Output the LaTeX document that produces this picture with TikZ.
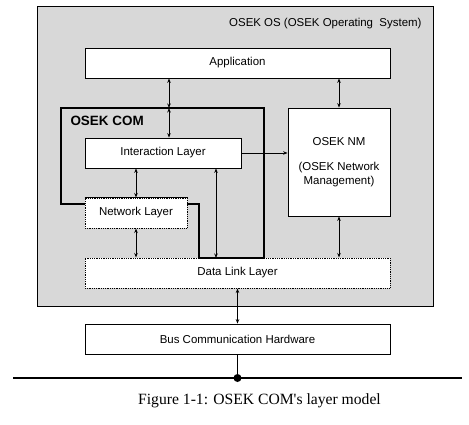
\documentclass[tikz,border=0pt]{standalone}
\usepackage{fontspec}
\setmainfont{Liberation Sans}
\newfontfamily\capfont{Liberation Serif}
\usetikzlibrary{arrows.meta}

\definecolor{osgray}{RGB}{216,216,216}

\tikzset{
    layer/.style={draw, fill=white, line width=0.8bp, inner sep=0pt,
        minimum width=#1, minimum height=30bp,
        font=\fontsize{11.5}{13.5}\selectfont},
    dotlayer/.style={layer=#1, densely dotted, line width=1bp},
    link/.style={line width=0.8bp, >={Stealth[length=4.5bp,width=3.5bp]}},
}

\begin{document}
\begin{tikzpicture}[x=1bp, y=-1bp]
    \useasboundingbox (0,0) rectangle (469,424);
    \def\lblfont{\fontsize{11.5}{13.5}\selectfont}

    % OSEK OS frame
    \node[draw, fill=osgray, line width=0.8bp, minimum width=396bp,
          minimum height=300bp, inner sep=0pt] (os) at (235,156) {};
    \node[anchor=east, font=\lblfont] (oslbl) at (425,24)
        {OSEK OS (OSEK Operating\ \ System)};

    \node[layer=305bp] (app) at (237.5,63) {Application};
    \node[layer=102bp, minimum height=108bp, align=center] (nm) at (339,162)
        {OSEK NM\\[12bp](OSEK Network\\Management)};

    % OSEK COM outline
    \draw[line width=2.4bp] (61,108) -- (264,108) -- (264,258) -- (199,258)
        -- (199,204) -- (61,204) -- cycle;
    \node[anchor=west, font=\fontsize{13.5}{15}\selectfont\bfseries] (comlbl)
        at (67,121) {OSEK COM};

    \node[layer=156bp] (il) at (163,153) {Interaction Layer};
    \node[dotlayer=102bp] (nl) at (136,213) {Network Layer};
    \draw[line width=0.8bp] (nl.north west) -- (nl.north east);
    \node[dotlayer=305bp] (dll) at (237.5,273) {Data Link Layer};
    \draw[line width=2.4bp] (199,258) -- (264,258);
    \node[layer=305bp] (bus) at (237.5,339) {Bus Communication Hardware};

    \coordinate (comtop) at (169,108);
    \coordinate (dllup) at (216,258);
    \coordinate (busL) at (13,378);
    \coordinate (busR) at (462,378);

    % connectors
    \draw[link, <->] (app.south -| comtop) -- (comtop);
    \draw[link, <->] (comtop) -- (il.north -| comtop);
    \draw[link, <->] (app.south -| nm) -- (nm.north);
    \draw[link, ->] (il.east) -- (il.east -| nm.west);
    \draw[link, <->] (il.south -| nl) -- (nl.north);
    \draw[link, <->] (nl.south) -- (nl.south |- dll.north);
    \draw[link, <->] (dllup) -- (dllup |- il.south);
    \draw[link, <->] (nm.south) -- (nm.south |- dll.north);
    \draw[link, <->] (dll.south) -- (bus.north);

    % bus line
    \draw[line width=1.2bp] (busL) -- (busR);
    \draw[line width=1bp] (bus.south) -- (bus.south |- busL);
    \fill (bus.south |- busL) circle (4bp);

    \node[font=\capfont\fontsize{15.7}{18}\selectfont] (cap) at (259.5,401)
        {Figure 1-1: OSEK COM's layer model};
\end{tikzpicture}
\end{document}
